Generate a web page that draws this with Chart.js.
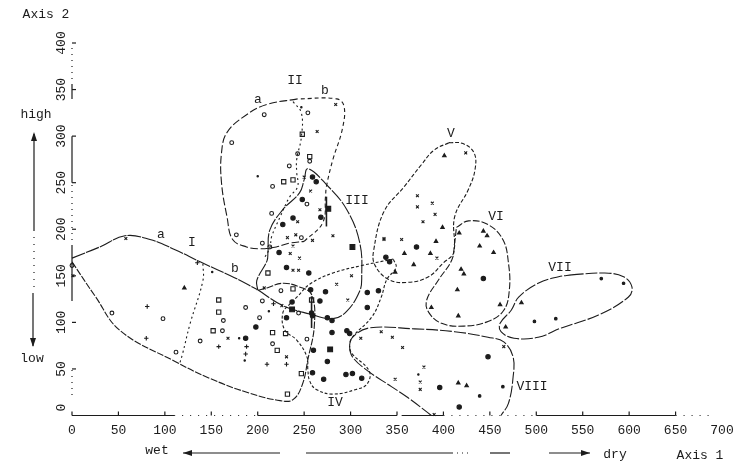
<!DOCTYPE html>
<html>
<head>
<meta charset="utf-8">
<script src="https://cdn.jsdelivr.net/npm/chart.js@4/dist/chart.umd.min.js"></script>
<style>
  body { margin: 0; background: #fff; }
  canvas { display: block; }
</style>
</head>
<body>
<canvas id="ordination" width="743" height="462"></canvas>
<script>
// Axis ticks
const xTickValues = [0, 50, 100, 150, 200, 250, 300, 350, 400, 450, 500, 550, 600, 650, 700];
const yTickValues = [0, 50, 100, 150, 200, 250, 300, 350, 400];

// Stands, one list per plotting symbol: [axis 1, axis 2]
const openSquares = [[248,302],[256,278],[238,253],[228,251],[158,124],[158,111],[152,91],[216,89],[230,88],[221,70],[232,23],[258,124],[238,136],[211,153],[247,45]];
const openCircles = [[207,323],[254,325],[172,293],[243,281],[256,273],[234,268],[216,246],[253,227],[215,217],[177,194],[247,191],[205,185],[213,181],[0,161],[43,110],[98,104],[112,68],[163,102],[162,91],[138,80],[187,116],[202,105],[216,77],[253,82],[205,123],[244,110],[225,134]];
const crosses = [[284,334],[264,305],[250,256],[257,241],[267,221],[243,208],[232,191],[241,194],[259,188],[281,193],[336,190],[238,182],[235,174],[245,169],[58,190],[1,150],[168,83],[231,63],[207,137],[226,118],[238,156],[244,156],[285,141],[301,150],[297,124],[311,83],[424,282],[372,236],[388,228],[372,224],[391,216],[378,208],[336,189],[355,189],[393,169],[333,90],[345,84],[356,73],[379,52],[348,39],[375,36],[375,28],[390,1],[465,74]];
const plusses = [[135,164],[81,117],[80,83],[158,74],[188,74],[187,66],[210,55],[231,55],[217,120]];
const specks = [[247,331],[200,257],[151,154],[180,83],[186,59],[212,112],[373,44]];
const filledDots = [[259,256],[263,251],[248,232],[268,213],[227,205],[238,212],[223,175],[198,95],[187,83],[237,122],[231,105],[258,110],[267,123],[257,135],[273,133],[231,159],[255,153],[275,105],[280,102],[318,132],[318,116],[259,107],[280,89],[296,91],[299,88],[260,70],[275,58],[259,46],[271,39],[295,44],[302,45],[312,40],[371,181],[338,170],[342,165],[330,134],[443,147],[396,30],[417,9],[448,63]];
const smallDots = [[570,147],[594,142],[498,101],[521,104],[439,21],[464,31]];
const filledSquares = [[276,222],[237,114],[278,71],[302,181]];
const triangles = [[401,279],[399,202],[392,187],[358,174],[386,174],[368,162],[348,154],[417,196],[443,198],[447,193],[439,182],[454,175],[419,157],[422,152],[415,135],[461,119],[387,116],[416,107],[484,121],[467,95],[416,35],[425,32],[121,137]];

// Cluster outlines
const outlineITop = [[0,169],[30,181],[57,193],[84,189],[111,178],[138,165],[175,148],[200,135]];
const outlineIBottom = [[0,165],[25,128],[52,91],[111,58],[148,40],[191,24],[224,16],[238,17],[248,33],[254,60],[261,97],[258,130],[245,138],[227,142],[210,137],[199,134]];
const dividerI = [[141,163],[141,145],[127,98],[119,66],[116,56]];
const outlineIIa = [[243,340],[210,334],[188,323],[167,304],[161,282],[161,250],[167,213],[173,189],[188,181],[202,179],[220,181],[234,185],[250,187]];
const outlineIIb = [[250,187],[270,207],[273,235],[274,246],[281,275],[291,307],[293,332],[285,340],[243,340]];
const dividerII = [[238,337],[247,325],[247,299],[242,275],[242,261],[243,246],[234,234],[224,213],[215,192],[213,180],[207,169]];
const outlineIII = [[200,135],[227,118],[256,109],[281,104],[296,112],[310,134],[312,148],[310,185],[296,221],[274,248],[254,265],[250,253],[245,239],[227,221],[213,199],[211,175],[210,166],[199,145],[200,135]];
const outlineIV = [[346,168],[312,161],[281,153],[256,141],[243,128],[234,119],[227,110],[229,92],[242,81],[253,63],[254,49],[256,37],[263,28],[281,23],[306,28],[318,34],[320,48],[302,66],[299,74],[302,84],[323,106],[333,127],[339,146],[349,159],[346,168]];
const outlineV = [[406,293],[421,292],[433,282],[434,264],[427,243],[412,213],[411,175],[400,164],[384,149],[362,143],[341,146],[326,162],[325,178],[336,219],[358,246],[376,269],[390,285],[406,293]];
const outlineVI = [[414,202],[427,209],[448,205],[464,189],[470,164],[471,135],[465,113],[448,101],[422,96],[398,99],[384,111],[382,124],[395,146],[409,167],[412,185],[414,202]];
const outlineVII = [[538,151],[573,153],[594,149],[603,138],[599,127],[567,108],[527,94],[502,84],[476,83],[462,90],[461,99],[473,113],[481,127],[502,142],[524,149],[538,151]];
const outlineVIII = [[387,0],[362,19],[344,31],[317,49],[302,63],[299,74],[302,84],[320,94],[369,93],[412,90],[448,84],[465,79],[475,63],[475,41],[470,13],[462,0]];
const heavyStrokeI = [[258,128],[258,94]];
const heavyStrokeII = [[274,235],[274,203]];

// Parts of the axis lines that survived the scan, in axis units
const xAxisSolid = [[0,110],[200,350],[355,400],[500,650]];
const xAxisDotted = [[110,200],[400,500],[650,690]];
const yAxisSolid = [[123,182],[250,300],[340,355]];
const yAxisDotted = [[22,50],[182,250],[355,400]];

const INK = '#1c1c1c';
const FONT = "13px 'Liberation Mono'";

function toPoints(list) {
    return list.map(p => ({ x: p[0], y: p[1] }));
}

function symbols(list, style, radius, filled) {
    return {
        data: toPoints(list),
        showLine: false,
        pointStyle: style,
        pointRadius: radius,
        pointBorderWidth: 1.1,
        pointBorderColor: INK,
        pointBackgroundColor: filled ? INK : 'rgba(0,0,0,0)',
        clip: false
    };
}

function outline(list, dash, width) {
    return {
        data: toPoints(list),
        showLine: true,
        tension: 0.4,
        borderColor: INK,
        borderWidth: width || 1.1,
        borderDash: dash,
        pointRadius: 0,
        fill: false,
        clip: false
    };
}

// Everything the scales don't draw themselves: broken axis lines, rotated y labels, captions
const annotations = {
    id: 'annotations',
    afterDraw(chart) {
        const ctx = chart.ctx;
        const xs = chart.scales.x;
        const ys = chart.scales.y;
        const x0 = xs.getPixelForValue(0);
        const y0 = ys.getPixelForValue(0);
        ctx.save();
        ctx.strokeStyle = INK;
        ctx.fillStyle = INK;

        function seg(x1, y1, x2, y2, dash) {
            ctx.lineWidth = 1.2;
            ctx.setLineDash(dash || []);
            ctx.beginPath();
            ctx.moveTo(x1, y1);
            ctx.lineTo(x2, y2);
            ctx.stroke();
            ctx.setLineDash([]);
        }

        xAxisSolid.forEach(s => seg(xs.getPixelForValue(s[0]), y0, xs.getPixelForValue(s[1]), y0));
        xAxisDotted.forEach(s => seg(xs.getPixelForValue(s[0]), y0, xs.getPixelForValue(s[1]), y0, [1, 7]));
        yAxisSolid.forEach(s => seg(x0, ys.getPixelForValue(s[0]), x0, ys.getPixelForValue(s[1])));
        yAxisDotted.forEach(s => seg(x0, ys.getPixelForValue(s[0]), x0, ys.getPixelForValue(s[1]), [1, 5]));

        xTickValues.forEach(v => {
            if (v < 700) seg(xs.getPixelForValue(v), y0, xs.getPixelForValue(v), y0 - 4);
        });
        yTickValues.forEach(v => {
            const py = ys.getPixelForValue(v);
            if (v > 0) seg(x0, py, x0 + 4, py);
        });

        ctx.font = FONT;
        ctx.textAlign = 'center';
        ctx.textBaseline = 'middle';
        yTickValues.forEach(v => {
            const py = v === 0 ? ys.getPixelForValue(v) - 8 : ys.getPixelForValue(v);
            ctx.save();
            ctx.translate(62, py);
            ctx.rotate(-Math.PI / 2);
            ctx.fillText(String(v), 0, 0);
            ctx.restore();
        });

        const captions = [
            ['Axis 2', 46, 15], ['high', 36, 115], ['low', 32, 359],
            ['wet', 157, 451], ['dry', 615, 455], ['Axis 1', 700, 456],
            ['I', 192, 243], ['a', 161, 235], ['b', 235, 269],
            ['II', 295, 81], ['a', 258, 100], ['b', 325, 91],
            ['III', 357, 201], ['IV', 335, 403], ['V', 451, 134],
            ['VI', 496, 217], ['VII', 560, 268], ['VIII', 532, 387]
        ];
        captions.forEach(c => ctx.fillText(c[0], c[1], c[2]));

        // wet / dry and high / low arrows, broken like the scan
        seg(183, 453, 280, 453);
        seg(306, 453, 452, 453);
        seg(452, 453, 470, 453, [1, 4]);
        seg(490, 453, 510, 453);
        seg(549, 453, 590, 453);
        seg(34, 134, 34, 230);
        seg(34, 230, 34, 293, [1, 6]);
        seg(33, 293, 33, 346);
        [[183, 453, 9, 0], [590, 453, -9, 0], [34, 132, 0, 9], [33, 347, 0, -9]].forEach(a => {
            ctx.beginPath();
            ctx.moveTo(a[0], a[1]);
            ctx.lineTo(a[0] + a[2] + a[3] / 3, a[1] + a[3] + a[2] / 3);
            ctx.lineTo(a[0] + a[2] - a[3] / 3, a[1] + a[3] - a[2] / 3);
            ctx.closePath();
            ctx.fill();
        });
        ctx.restore();
    }
};

new Chart(document.getElementById('ordination').getContext('2d'), {
    type: 'scatter',
    data: {
        datasets: [
            outline(outlineITop, [14, 1]),
            outline(outlineIBottom, [7, 1.5]),
            outline(dividerI, [2, 3]),
            outline(outlineIIa, [8, 2.5]),
            outline(outlineIIb, [4, 3]),
            outline(dividerII, [2, 3]),
            outline(outlineIII, [14, 1.5]),
            outline(outlineIV, [3, 2]),
            outline(outlineV, [4, 2]),
            outline(outlineVI, [7, 2]),
            outline(outlineVII, [12, 2]),
            outline(outlineVIII, [12, 2]),
            outline(heavyStrokeI, [], 1.6),
            outline(heavyStrokeII, [], 1.6),
            symbols(openSquares, 'rect', 3, false),
            symbols(openCircles, 'circle', 1.9, false),
            symbols(crosses, 'crossRot', 2, false),
            symbols(plusses, 'cross', 2.2, false),
            symbols(specks, 'circle', 0.7, true),
            symbols(filledDots, 'circle', 2.2, true),
            symbols(smallDots, 'circle', 1.3, true),
            symbols(filledSquares, 'rect', 3.4, true),
            symbols(triangles, 'triangle', 2, true)
        ]
    },
    options: {
        responsive: false,
        animation: false,
        layout: { padding: { left: 72, right: 21, top: 43, bottom: 16.5 } },
        plugins: { legend: { display: false }, tooltip: { enabled: false } },
        scales: {
            x: {
                type: 'linear',
                min: 0,
                max: 700,
                afterFit(scale) { scale.height = 30; },
                afterBuildTicks(scale) { scale.ticks = xTickValues.map(v => ({ value: v })); },
                border: { display: false },
                grid: { display: false, drawTicks: false },
                ticks: { color: INK, font: { family: 'Liberation Mono', size: 13 }, padding: 7, maxRotation: 0, autoSkip: false }
            },
            y: {
                type: 'linear',
                min: 0,
                max: 400,
                afterFit(scale) { scale.width = 0; },
                border: { display: false },
                grid: { display: false },
                ticks: { display: false }
            }
        }
    },
    plugins: [annotations]
});
</script>
</body>
</html>
